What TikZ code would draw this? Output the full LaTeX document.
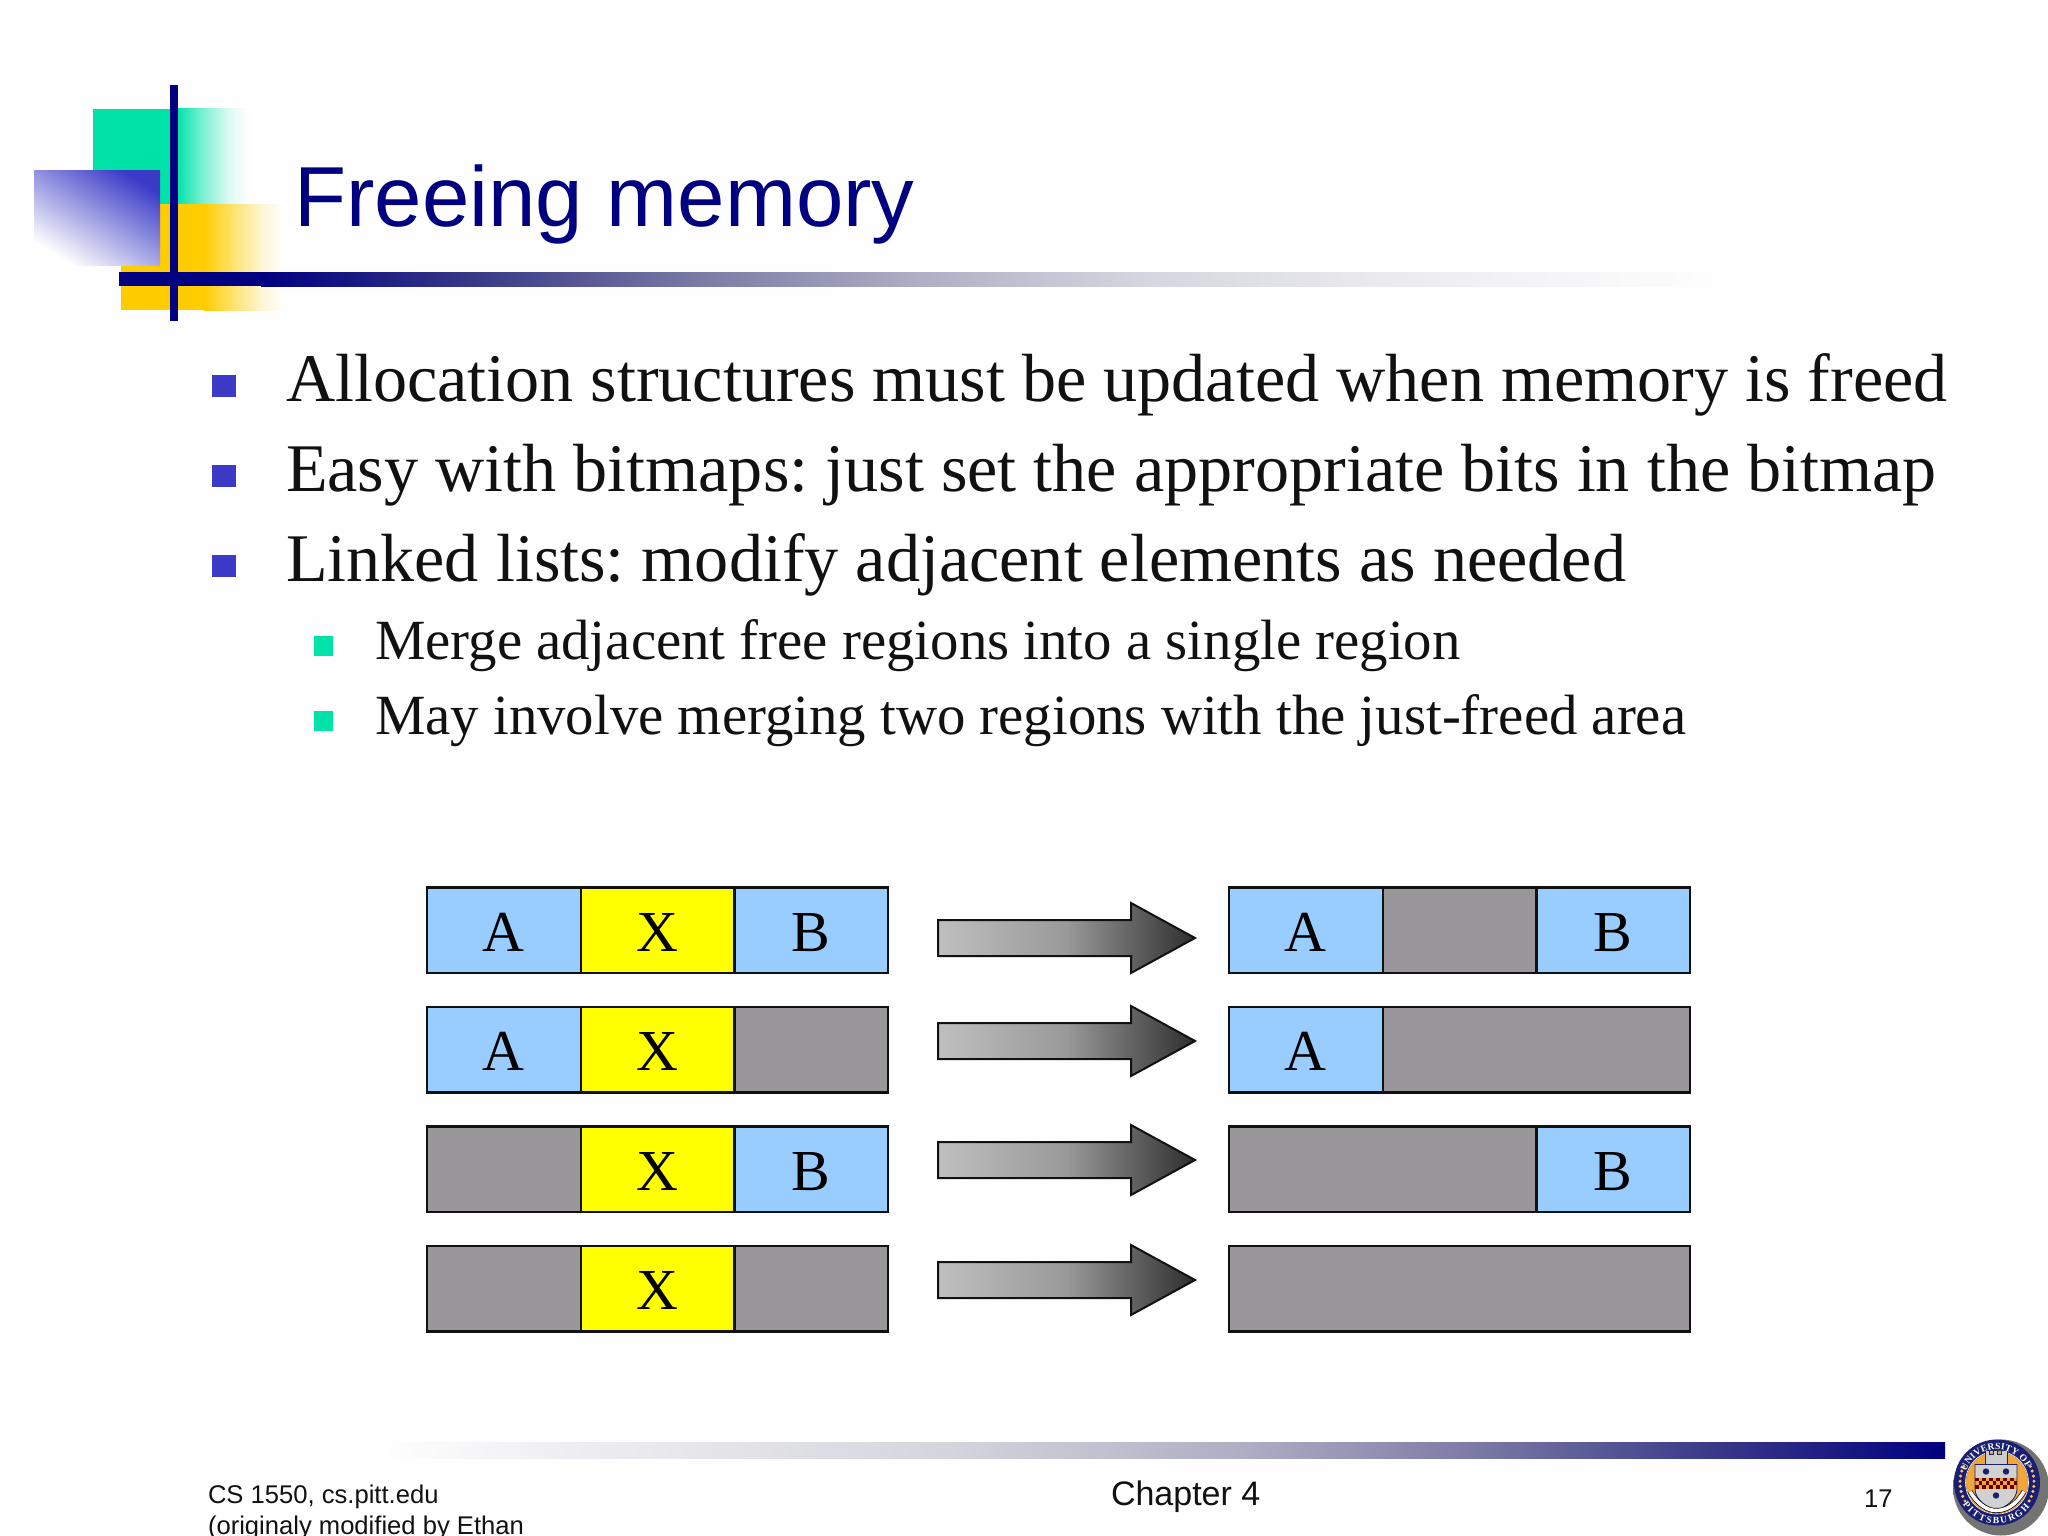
\documentclass[tikz,border=0pt]{standalone}
\usepackage{fontspec}
\setmainfont{Liberation Serif}
\newfontfamily\arialf{Liberation Sans}
\usetikzlibrary{decorations.text}
\frenchspacing
\definecolor{bgc}{HTML}{FEFEFE}
\definecolor{navy}{HTML}{000080}
\definecolor{teal1}{HTML}{00E3A8}
\definecolor{gold1}{HTML}{FFCC00}
\definecolor{blue1}{HTML}{3B3BC8}
\definecolor{cellblue}{HTML}{99CCFF}
\definecolor{cellgrey}{HTML}{999799}
\definecolor{cellyellow}{HTML}{FFFF00}
\definecolor{inkblack}{HTML}{111111}
\definecolor{logoorange}{HTML}{F2A63A}
\definecolor{logonavy}{HTML}{1A1F70}
\definecolor{ba}{HTML}{3A3A88}
\definecolor{bb}{HTML}{7A7AA5}
\definecolor{bc}{HTML}{AEAEC4}
\definecolor{bd}{HTML}{D5D5DE}
\definecolor{be}{HTML}{EEEEF2}
\pgfdeclareradialshading{logoshadow}{\pgfpoint{0bp}{0bp}}{color(0bp)=(black!55); color(36bp)=(black!55); color(50bp)=(bgc)}
% the picture's box spans 25bp to 75bp of these shadings
\pgfdeclarehorizontalshading{navyfade}{100bp}{color(0bp)=(navy); color(25bp)=(navy); color(32.5bp)=(ba); color(40bp)=(bb); color(47.5bp)=(bc); color(55bp)=(bd); color(65bp)=(be); color(75bp)=(bgc); color(100bp)=(bgc)}
\pgfdeclarehorizontalshading{fadenavy}{100bp}{color(0bp)=(bgc); color(25bp)=(bgc); color(31bp)=(be); color(43bp)=(bd); color(52.5bp)=(bc); color(60bp)=(bb); color(67.5bp)=(ba); color(75bp)=(navy); color(100bp)=(navy)}
\pgfdeclarehorizontalshading{tealfade}{100bp}{color(0bp)=(teal1); color(25bp)=(teal1); color(42bp)=(teal1!50!bgc); color(58bp)=(teal1!14!bgc); color(70bp)=(bgc); color(100bp)=(bgc)}
\pgfdeclarehorizontalshading{goldfade}{100bp}{color(0bp)=(gold1); color(25bp)=(gold1); color(42bp)=(gold1!55!bgc); color(58bp)=(gold1!16!bgc); color(70bp)=(bgc); color(100bp)=(bgc)}
\tikzset{
  txt/.style={inner sep=0pt,outer sep=0pt,anchor=base west,text=inkblack},
  bodyA/.style={txt,font=\fontsize{68.15}{68}\selectfont},
  bodyB/.style={txt,font=\fontsize{56.8}{58}\selectfont},
  footA/.style={txt,font=\arialf\fontsize{25.6}{25.6}\selectfont},
  cell/.style={draw=inkblack,line width=2.2pt,minimum height=85.5pt,inner sep=0pt,outer sep=0pt,anchor=north west,font=\fontsize{58}{58}\selectfont,text=black,text height=42pt,text depth=0pt},
  cellA/.style={cell,fill=cellblue,minimum width=153.7pt},
  cellX/.style={cell,fill=cellyellow,minimum width=153.7pt},
  cellG/.style={cell,fill=cellgrey,minimum width=153.7pt},
  bigarrow/.style={draw=inkblack,line width=2pt,left color=black!25,right color=black!82,middle color=black!40},
  ringtext/.style={decorate,decoration={text along path,text align={fit to path},text={|\fontsize{9.5}{9.5}\selectfont\bfseries\color{white}|#1}}},
}
\newcommand{\rowarrow}[2]{%
  \path[bigarrow] (938,#2-18) coordinate (#1s) -- (1131,#2-18) -- (1131,#2-35) -- (1195,#2) coordinate (#1t) -- (1131,#2+35) -- (1131,#2+18) -- (938,#2+18) -- cycle;
}
\begin{document}
\begin{tikzpicture}[x=1pt,y=-1pt]
\useasboundingbox (0,0) rectangle (2048,1536);
\begin{scope}
\clip (0,0) rectangle (2048,1536);
\fill[bgc] (0,0) rectangle (2048,1536);

% ornament
\fill[teal1] (93,109) rectangle (178,204);
\shade[shading=tealfade] (177,109) rectangle (255,204);
\fill[gold1] (121,204) rectangle (205,310);
\shade[shading=goldfade] (204,204) rectangle (292,310);
\shade[shading=axis,left color=bgc,middle color=blue1!30!bgc,right color=blue1,shading angle=148] (34,170) rectangle (160,265);
\fill[navy] (119,272) rectangle (262,286);
\shade[shading=navyfade] (261,272) rectangle (1720,286);
\fill[navy] (170,85) rectangle (178,321);

% title
\node[txt,text=navy,font=\arialf\fontsize{85.2}{85}\selectfont] (title) at (294.5,226) {Freeing memory};

% bullets
\fill[blue1] (212,375) rectangle (236,397);
\fill[blue1] (212,465) rectangle (236,487);
\fill[blue1] (212,555) rectangle (236,577);
\node[bodyA] (l1) at (286,401) {Allocation structures must be updated when memory is freed};
\node[bodyA] (l2) at (286,491) {Easy with bitmaps: just set the appropriate bits in the bitmap};
\node[bodyA] (l3) at (286,581) {Linked lists: modify adjacent elements as needed};
\fill[teal1] (314,636) rectangle (333,656);
\fill[teal1] (314,711) rectangle (333,731);
\node[bodyB] (s1) at (375,659) {Merge adjacent free regions into a single region};
\node[bodyB] (s2) at (375,734) {May involve merging two regions with the just-freed area};

% row 1
\node[cellA] (a1) at (427,887.5) {A};
\node[cellX] (x1) at (580.7,887.5) {X};
\node[cellA] (b1) at (734.4,887.5) {B};
\node[cellA] (ra1) at (1229,887.5) {A};
\node[cellG] (rg1) at (1382.7,887.5) {};
\node[cellA] (rb1) at (1536.4,887.5) {B};
% row 2
\node[cellA] (a2) at (427,1007) {A};
\node[cellX] (x2) at (580.7,1007) {X};
\node[cellG] (b2) at (734.4,1007) {};
\node[cellA] (ra2) at (1229,1007) {A};
\node[cell,fill=cellgrey,minimum width=307.4pt] (rg2) at (1382.7,1007) {};
% row 3
\node[cellG] (a3) at (427,1126.5) {};
\node[cellX] (x3) at (580.7,1126.5) {X};
\node[cellA] (b3) at (734.4,1126.5) {B};
\node[cell,fill=cellgrey,minimum width=307.4pt] (rg3) at (1229,1126.5) {};
\node[cellA] (rb3) at (1536.4,1126.5) {B};
% row 4
\node[cellG] (a4) at (427,1246) {};
\node[cellX] (x4) at (580.7,1246) {X};
\node[cellG] (b4) at (734.4,1246) {};
\node[cell,fill=cellgrey,minimum width=461.1pt] (rg4) at (1229,1246) {};

% arrows
\rowarrow{p}{938}
\rowarrow{q}{1041}
\rowarrow{r}{1160}
\rowarrow{u}{1280}

% footer
\shade[shading=fadenavy] (383,1442) rectangle (1945,1458);
\node[footA] (f1) at (208,1503) {CS 1550, cs.pitt.edu};
\node[footA] (f2) at (208,1534.5) {(originaly modified by Ethan};
\node[txt,font=\arialf\fontsize{34}{34}\selectfont] (ch) at (1111,1505.5) {Chapter 4};
\node[txt,font=\arialf\fontsize{25.6}{25.6}\selectfont] (pg) at (1864,1507) {17};

% logo
\begin{scope}[shift={(1997,1482.5)},y=1pt]
  \path[shading=logoshadow] (4,-5) circle (48);
  \fill[logonavy] (0,0) circle (43);
  \fill[logoorange] (0,0) circle (31);
  \draw[white,line width=0.6pt] (0,0) circle (31.5);
  % laurels
  \foreach \a in {154,162,...,210,-30,-22,...,26}{
    \fill[logoorange!70!white] (\a:37) circle (1.7);
  }
  % castle
  \fill[black!20] (-12,18) -- (-12,32) -- (-8,32) -- (-8,28) -- (-4,28) -- (-4,32) -- (0,32) -- (0,28) -- (4,28) -- (4,32) -- (10,32) -- (10,18) -- cycle;
  \draw[logonavy,line width=0.7pt] (-12,18) -- (-12,32) -- (-8,32) -- (-8,28) -- (-4,28) -- (-4,32) -- (0,32) -- (0,28) -- (4,28) -- (4,32) -- (10,32) -- (10,18);
  % shield
  \fill[black!18] (-22,18) -- (20,18) -- (20,-6) .. controls (20,-18) and (8,-24) .. (-1,-29) .. controls (-10,-24) and (-22,-18) .. (-22,-6) -- cycle;
  \fill[logonavy] (-11,11) circle (3.2);
  \fill[logonavy] (9,11) circle (3.2);
  \fill[logonavy] (-1,-13) circle (3.2);
  % checker band
  \fill[logoorange] (-22,5) rectangle (20,-6);
  \foreach \i in {0,...,11}{
    \foreach \j in {0,1,2}{
      \pgfmathtruncatemacro{\k}{mod(\i+\j,2)}
      \ifnum\k=0
        \fill[black!60!red] (-22+\i*3.5,5-\j*3.67) rectangle ++(3.5,-3.67);
      \fi
    }
  }
  \draw[logonavy,line width=0.8pt] (-22,18) -- (20,18) -- (20,-6) .. controls (20,-18) and (8,-24) .. (-1,-29) .. controls (-10,-24) and (-22,-18) .. (-22,-6) -- cycle;
  % ribbon
  \draw[black,line width=5pt] (-27,-9) .. controls (-18,-24) and (-8,-28) .. (-1,-28) .. controls (8,-28) and (18,-24) .. (27,-9);
  \draw[white,line width=3.6pt] (-27,-9) .. controls (-18,-24) and (-8,-28) .. (-1,-28) .. controls (8,-28) and (18,-24) .. (27,-9);
  % ring lettering
  \path[ringtext={UNIVERSITY OF}] (160:33) arc (160:26:33);
  \path[ringtext={PITTSBURGH}] (213:41) arc (213:323:41);
\end{scope}
\end{scope}
\end{tikzpicture}
\end{document}
